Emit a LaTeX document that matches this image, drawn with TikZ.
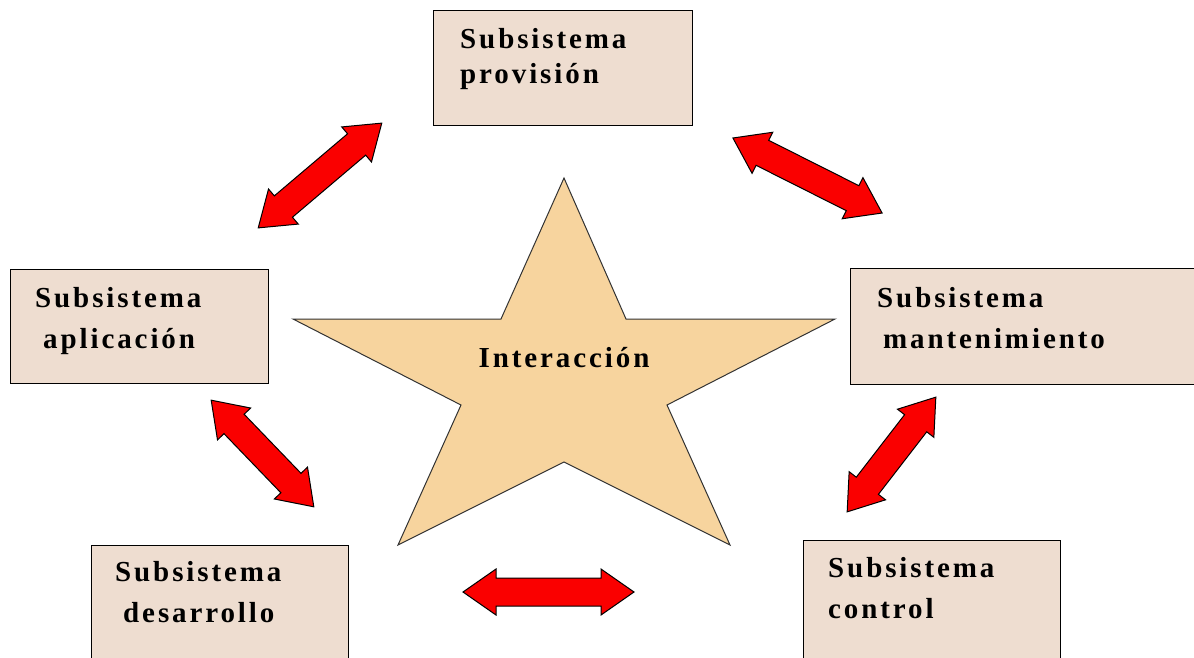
\documentclass[tikz,border=0pt]{standalone}
\usepackage{fontspec}
\setmainfont{Liberation Serif}
\definecolor{cajafondo}{RGB}{238,221,208}
\definecolor{estrellafondo}{RGB}{247,212,158}
\definecolor{flecharoja}{RGB}{250,0,0}
\tikzset{
  caja/.style={draw=black, line width=1.4pt, fill=cajafondo, inner sep=0pt, anchor=north west},
  rotulo/.style={font=\fontsize{29}{41}\selectfont\bfseries\addfontfeature{LetterSpace=10},
    align=left, anchor=base west, inner sep=0pt},
  pics/flechadoble/.style={code={
    \filldraw[fill=flecharoja, draw=black, line width=1pt]
      (-#1/2,0) -- ({-#1/2+33},-23) -- ({-#1/2+33},-14) -- ({#1/2-33},-14)
      -- ({#1/2-33},-23) -- (#1/2,0) -- ({#1/2-33},23) -- ({#1/2-33},14)
      -- ({-#1/2+33},14) -- ({-#1/2+33},23) -- cycle;
  }}
}
\begin{document}
\begin{tikzpicture}[x={(1pt,0pt)}, y={(0pt,-1pt)}]
    \useasboundingbox (0,0) rectangle (1194,657);
    \clip (0,0) rectangle (1194,657);

    % Cajas de los subsistemas.
    \node[caja, minimum width=259, minimum height=115] (prov) at (433,10) {};
    \node[caja, minimum width=258, minimum height=114] (apli) at (10,269) {};
    \node[caja, minimum width=360, minimum height=116] (mant) at (850,268) {};
    \node[caja, minimum width=257, minimum height=120] (desa) at (91,545) {};
    \node[caja, minimum width=257, minimum height=125] (ctrl) at (803,540) {};

    % el ancla base es la de la ultima linea
    \node[rotulo] (provT) at (460,83) {Subsistema\\[-6pt]provisión};
    \node[rotulo] (apliT) at (35,348) {Subsistema\\\hspace*{8pt}aplicación};
    \node[rotulo] (mantT) at (877,348) {Subsistema\\\hspace*{6pt}mantenimiento};
    \node[rotulo] (desaT) at (115,622) {Subsistema\\\hspace*{8pt}desarrollo};
    \node[rotulo] (ctrlT) at (828,618) {Subsistema\\control};

    % Estrella central.
    \filldraw[fill=estrellafondo, draw=black!80, line width=1pt]
        (564,178) -- (626,319) -- (835,319) -- (667,405) -- (730,545)
        -- (564,462) -- (398,545) -- (461,405) -- (293,319) -- (501,319) -- cycle;
    \node[rotulo, anchor=base] (inter) at (564,367) {Interacción};

    % Flechas dobles entre subsistemas.
    \pic[rotate=40.3] (f1) at (320,175.5) {flechadoble=162};
    \pic[rotate=-26.7] (f2) at (807.5,175.5) {flechadoble=167};
    \pic[rotate=-46.1] (f3) at (262.5,453.5) {flechadoble=148};
    \pic[rotate=52.3] (f4) at (891.5,454.5) {flechadoble=145};
    \pic (f5) at (548.5,592) {flechadoble=171};
\end{tikzpicture}
\end{document}
